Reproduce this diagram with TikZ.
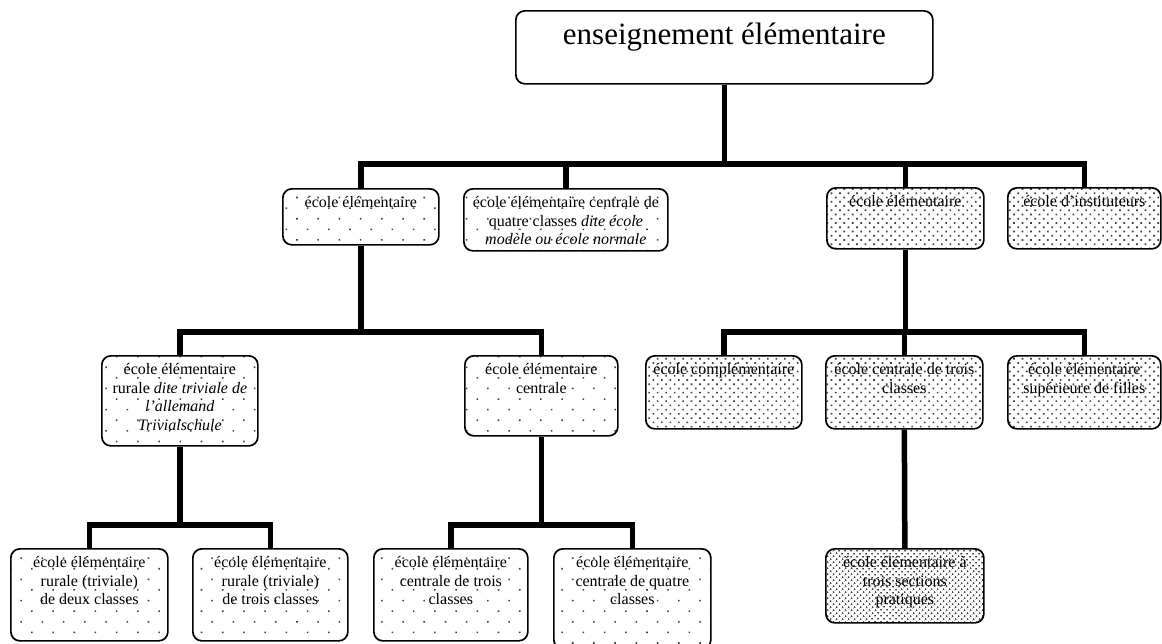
\documentclass[tikz,border=0pt]{standalone}
\usepackage{fontspec}
\setmainfont{Liberation Serif}
\usetikzlibrary{patterns.meta}

% top-aligned, centred text block of fixed size: width, height, text
\newcommand{\cell}[3]{\parbox[t][#2][t]{#1}{\centering\vspace*{6pt}\strut #3}}

\tikzset{
  box/.style={draw, line width=1.7pt, rounded corners=9pt, inner sep=0pt,
    anchor=north west, font=\fontsize{16}{18.5}\selectfont},
  sparse/.style={box, pattern={Dots[distance=15pt, angle=45, radius=1.1pt]}, pattern color=black!75},
  dense/.style={box, pattern={Dots[distance=6pt, angle=45, radius=1.15pt]}, pattern color=black!75},
  denser/.style={box, pattern={Dots[distance=4pt, angle=45, radius=1.1pt]}, pattern color=black!75},
  link/.style={line width=5.5pt},
}

\begin{document}
\begin{tikzpicture}[x=1pt, y=-1pt]
\clip (0,0) rectangle (1162,643);

% root
\node[box, font=\fontsize{31}{36}\selectfont] (root) at (515,10)
  {\parbox[t][73pt][t]{417pt}{\centering\vspace*{8pt}\strut enseignement élémentaire}};

% first level
\node[sparse] (A) at (282,188) {\cell{156pt}{56pt}{école élémentaire}};
\node[sparse] (B) at (463,188) {\cell{204pt}{62pt}{école élémentaire centrale de\\ quatre classes \textit{dite école}\\ \textit{modèle ou école normale}}};
\node[dense] (C) at (826,187) {\cell{157pt}{61pt}{école élémentaire}};
\node[dense] (D) at (1007,187) {\cell{153pt}{61pt}{école d'instituteurs}};

% second level
\node[sparse] (E) at (101,355) {\cell{156pt}{90pt}{école élémentaire\\ rurale \textit{dite triviale de}\\ \textit{l'allemand}\\ \textit{Trivialschule}}};
\node[sparse] (F) at (464,355) {\cell{153pt}{80pt}{école élémentaire\\ centrale}};
\node[dense] (G) at (645,355) {\cell{156pt}{73pt}{école complémentaire}};
\node[dense] (H) at (825,355) {\cell{157pt}{73pt}{école centrale de trois\\ classes}};
\node[dense] (I) at (1007,355) {\cell{153pt}{73pt}{école élémentaire\\ supérieure de filles}};

% third level
\node[sparse] (K) at (10,548) {\cell{157pt}{92pt}{école élémentaire\\ rurale (triviale)\\ de deux classes}};
\node[sparse] (L) at (192,548) {\cell{155pt}{92pt}{école élémentaire\\ rurale (triviale)\\ de trois classes}};
\node[sparse] (M) at (373,548) {\cell{154pt}{92pt}{école élémentaire\\ centrale de trois\\ classes}};
\node[sparse] (N) at (553,548) {\cell{157pt}{100pt}{école élémentaire\\ centrale de quatre\\ classes}};
\node[denser] (J) at (825,548) {\cell{158pt}{74pt}{école élémentaire à\\ trois sections\\ pratiques}};

% bar heights
\coordinate (bar1) at (0,164);
\coordinate (bar2) at (0,332);
\coordinate (bar3) at (0,525);

% connectors
\draw[link] (root.south) -- (root.south |- bar1);
\draw[link] (A.north) |- (D.north |- bar1) -- (D.north);
\draw[link] (B.north) -- (B.north |- bar1);
\draw[link] (C.north) -- (C.north |- bar1);

\draw[link] (A.south) -- (A.south |- bar2);
\draw[link] (E.north) |- (F.north |- bar2) -- (F.north);
\draw[link] (C.south) -- (C.south |- bar2);
\draw[link] (G.north) |- (I.north |- bar2) -- (I.north);
\draw[link] (H.north) -- (H.north |- bar2);

\draw[link] (E.south) -- (E.south |- bar3);
\draw[link] (K.north) |- (L.north |- bar3) -- (L.north);
\draw[link] (F.south) -- (F.south |- bar3);
\draw[link] (M.north) |- (N.north |- bar3) -- (N.north);
\draw[link] (H.south) -- (J.north);
\end{tikzpicture}
\end{document}
